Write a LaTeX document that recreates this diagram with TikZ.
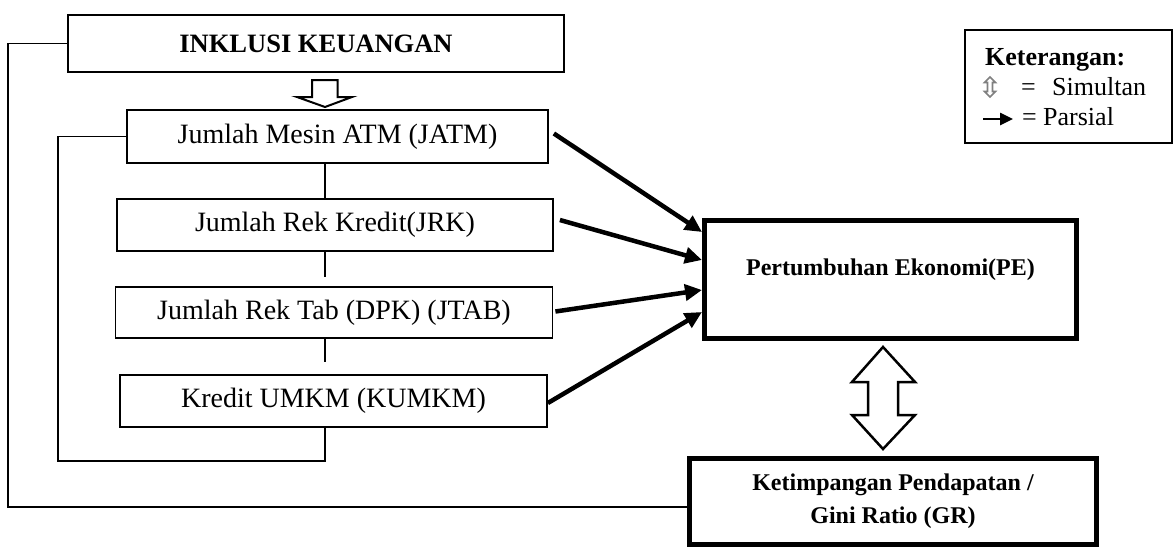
\documentclass[tikz,border=0pt]{standalone}
\usepackage{fontspec}
\setmainfont{Liberation Serif}
\usetikzlibrary{arrows.meta,calc}
\begin{document}
\begin{tikzpicture}[x=1pt,y=-1pt,
 box/.style={draw,line width=1.8pt,inner sep=0pt,font=\fontsize{28}{32}\selectfont},
 thickbox/.style={draw,line width=5pt,inner sep=0pt},
 conn/.style={line width=1.5pt},
 parsial/.style={line width=4.5pt,-{Triangle[length=17pt,width=16pt]}},
 hollow/.style={draw,line width=2pt,fill=white,line join=miter},
 boldtxt/.style={font=\fontsize{24}{33}\selectfont\bfseries,align=center,inner sep=0pt},
 legtxt/.style={font=\fontsize{26}{30}\selectfont,anchor=base west,inner sep=0pt}]
\useasboundingbox (0,0) rectangle (1176,549);
% boxes
\node[box,minimum width=496pt,minimum height=57pt,font=\fontsize{26.5}{30}\selectfont\bfseries] (ink) at (316,43.5) {INKLUSI KEUANGAN};
\node[box,minimum width=421pt,minimum height=53pt] (jatm) at (337.5,136.5) {Jumlah Mesin ATM (JATM)};
\node[box,minimum width=436pt,minimum height=52pt] (jrk) at (335,225) {Jumlah Rek Kredit(JRK)};
\node[box,minimum width=437pt,minimum height=51pt] (jtab) at (334,312.5) {Jumlah Rek Tab (DPK) (JTAB)};
\node[box,minimum width=427pt,minimum height=52pt] (kumkm) at (333.5,401) {Kredit UMKM (KUMKM)};
\node[thickbox,minimum width=372pt,minimum height=118pt] (pe) at (890.5,279.5) {};
\node[boldtxt] (pet) at (890.5,270) {Pertumbuhan Ekonomi(PE)};
\node[thickbox,minimum width=407pt,minimum height=86pt,boldtxt] (gr) at (893,501.5) {Ketimpangan Pendapatan /\\Gini Ratio (GR)};
% legend
\node[draw,line width=1.8pt,minimum width=207pt,minimum height=113pt,inner sep=0pt] (leg) at (1068.5,86.5) {};
\node[legtxt,font=\fontsize{26}{30}\selectfont\bfseries] (legt) at (985,65) {Keterangan:};
\node[legtxt] (eq1) at (1021,95) {=};
\node[legtxt] (sim) at (1052,95) {Simultan};
\node[legtxt] (eq2) at (1022,125) {=};
\node[legtxt] (par) at (1043,125) {Parsial};
\draw[gray,line width=1.6pt,fill=white] (990,77) -- (995.5,82.5) -- (992.5,82.5) -- (992.5,91.5) -- (995.5,91.5) -- (990,97) -- (984.5,91.5) -- (987.5,91.5) -- (987.5,82.5) -- (984.5,82.5) -- cycle;
\coordinate (pa1) at (983,119);
\coordinate (pa2) at (1013,119);
\draw[line width=2.5pt,-{Triangle[length=13pt,width=12pt]}] (pa1) -- (pa2);
% outer feedback line
\coordinate (lc) at (8,507);
\draw[conn] (ink.west) -| (lc) -- (lc -| gr.west);
% inner group line
\coordinate (ic) at (58,461);
\draw[conn] (jatm.west) -| (ic) -| (kumkm.south -| 325,0);
% vertical links
\coordinate (e1) at (325,277);
\coordinate (e2) at (325,362);
\draw[conn] (jatm.south -| 325,0) -- (jrk.north -| 325,0);
\draw[conn] (jrk.south -| 325,0) -- (e1);
\draw[conn] (jtab.south -| 325,0) -- (e2);
% hollow arrow down
\draw[hollow] (312,80) -- (337.5,80) -- (337.5,97) -- (352,97) -- (325,107) -- (297,97) -- (312,97) -- cycle;
% double hollow arrow
\draw[hollow,line width=2.5pt] (883,347) -- (915,382) -- (898,382) -- (898,415) -- (915,415) -- (883,449) -- (852,415) -- (868,415) -- (868,382) -- (852,382) -- cycle;
% parsial arrows
\draw[parsial] ([shift={(5,-3)}]jatm.east) -- (pe.west |- 0,232);
\draw[parsial] ([shift={(6,-5)}]jrk.east) -- (pe.west |- 0,260);
\draw[parsial] ([shift={(2,-1)}]jtab.east) -- (pe.west |- 0,290);
\draw[parsial] ([shift={(0,2)}]kumkm.east) -- (pe.west |- 0,312);
\end{tikzpicture}
\end{document}
